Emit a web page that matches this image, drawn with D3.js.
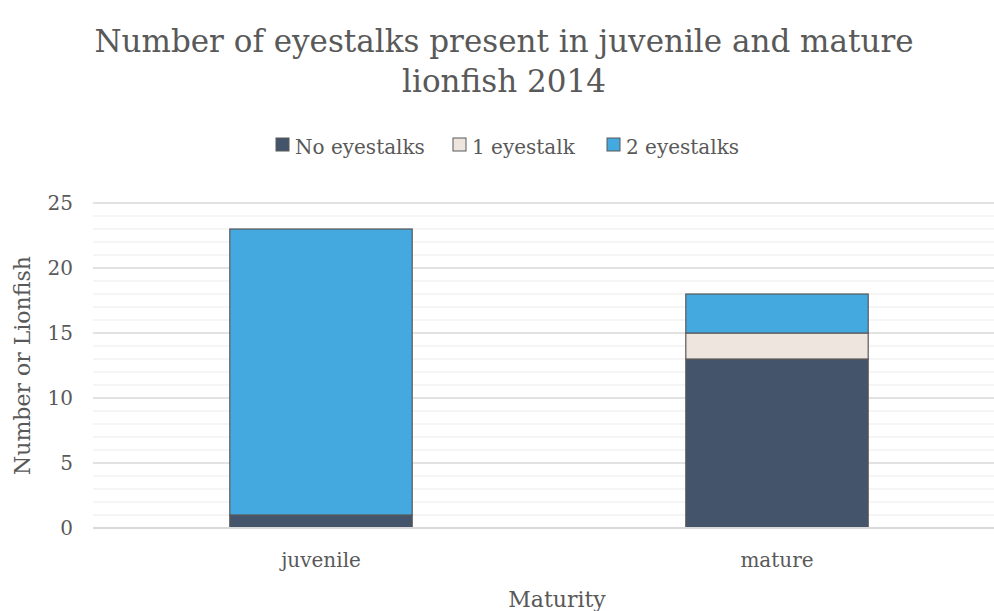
<!DOCTYPE html>
<html>
<head>
<meta charset="utf-8">
<script src="https://cdn.jsdelivr.net/npm/d3@7/dist/d3.min.js"></script>
<style>
  html, body { margin: 0; padding: 0; background: #fff; }
  svg { display: block; }
  text { fill: #595959; }
</style>
</head>
<body>
<script>
// Lionfish eyestalk counts by maturity stage (stacked)
const categories = ["juvenile", "mature"];
const seriesNames = ["No eyestalks", "1 eyestalk", "2 eyestalks"];
const noEyestalks = [1, 13];
const oneEyestalk = [0, 2];
const twoEyestalks = [22, 3];
const yTicks = [0, 5, 10, 15, 20, 25];
const colors = ["#44546A", "#EEE5DF", "#43A9DF"];

const W = 994, H = 611;
const serif = "'DejaVu Serif', serif";

const rows = categories.map((c, i) => ({
  cat: c,
  "No eyestalks": noEyestalks[i],
  "1 eyestalk": oneEyestalk[i],
  "2 eyestalks": twoEyestalks[i]
}));
const stacked = d3.stack().keys(seriesNames)(rows);

const svg = d3.select("body").append("svg").attr("width", W).attr("height", H);

const x = d3.scaleBand().domain(categories).range([93, 1005]).paddingInner(0.6).paddingOuter(0.3);
const y = d3.scaleLinear().domain([0, 25]).range([528, 203]);

// minor gridlines every unit
svg.append("g").selectAll("line")
  .data(d3.range(0, 26).filter(v => v % 5 !== 0))
  .join("line")
  .attr("x1", 93).attr("x2", 1005)
  .attr("y1", d => y(d)).attr("y2", d => y(d))
  .attr("stroke", "#F2F2F2").attr("stroke-width", 1.3);

// major gridlines
svg.append("g").selectAll("line")
  .data(yTicks.filter(v => v > 0))
  .join("line")
  .attr("x1", 93).attr("x2", 1005)
  .attr("y1", d => y(d)).attr("y2", d => y(d))
  .attr("stroke", "#D9D9D9").attr("stroke-width", 1.3);

// stacked bars
svg.append("g").selectAll("g")
  .data(stacked)
  .join("g")
  .attr("fill", (d, i) => colors[i])
  .selectAll("rect")
  .data(d => d.filter(s => s[1] - s[0] > 0))
  .join("rect")
  .attr("x", d => x(d.data.cat))
  .attr("width", x.bandwidth())
  .attr("y", d => y(d[1]))
  .attr("height", d => y(d[0]) - y(d[1]))
  .attr("stroke", "#595959").attr("stroke-width", 1.2);

// baseline axis
svg.append("line")
  .attr("x1", 93).attr("x2", 1005)
  .attr("y1", y(0)).attr("y2", y(0))
  .attr("stroke", "#D9D9D9").attr("stroke-width", 2);

// y axis tick labels
const yAxis = d3.axisLeft(y).tickValues(yTicks).tickSize(0).tickPadding(0);
const gy = svg.append("g").attr("transform", "translate(73,0)").call(yAxis);
gy.select(".domain").remove();
gy.selectAll("text").attr("font-family", serif).attr("font-size", 20).style("fill", "#595959");

// x axis category labels
const xAxis = d3.axisBottom(x).tickSize(0).tickPadding(0);
const gx = svg.append("g").attr("transform", "translate(0,553)").call(xAxis);
gx.select(".domain").remove();
gx.selectAll("text").attr("font-family", serif).attr("font-size", 20).style("fill", "#595959");

// axis titles
svg.append("text")
  .attr("x", 557).attr("y", 607)
  .attr("text-anchor", "middle")
  .attr("font-family", serif).attr("font-size", 22)
  .text("Maturity");

svg.append("text")
  .attr("transform", `translate(30,${(y(0) + y(25)) / 2}) rotate(-90)`)
  .attr("text-anchor", "middle")
  .attr("font-family", serif).attr("font-size", 22)
  .text("Number or Lionfish");

// title
svg.append("text")
  .attr("x", 504).attr("y", 52)
  .attr("text-anchor", "middle")
  .attr("font-family", serif).attr("font-size", 31)
  .text("Number of eyestalks present in juvenile and mature");
svg.append("text")
  .attr("x", 504).attr("y", 92)
  .attr("text-anchor", "middle")
  .attr("font-family", serif).attr("font-size", 31)
  .text("lionfish 2014");

// legend
const legendX = [276, 453, 607];
const lg = svg.append("g").selectAll("g")
  .data(seriesNames)
  .join("g")
  .attr("transform", (d, i) => `translate(${legendX[i]},138)`);
lg.append("rect")
  .attr("width", 13).attr("height", 13)
  .attr("fill", (d, i) => colors[i])
  .attr("stroke", "#595959").attr("stroke-width", 1);
lg.append("text")
  .attr("x", 19).attr("y", 16)
  .attr("font-family", serif).attr("font-size", 20)
  .text(d => d);
</script>
</body>
</html>
